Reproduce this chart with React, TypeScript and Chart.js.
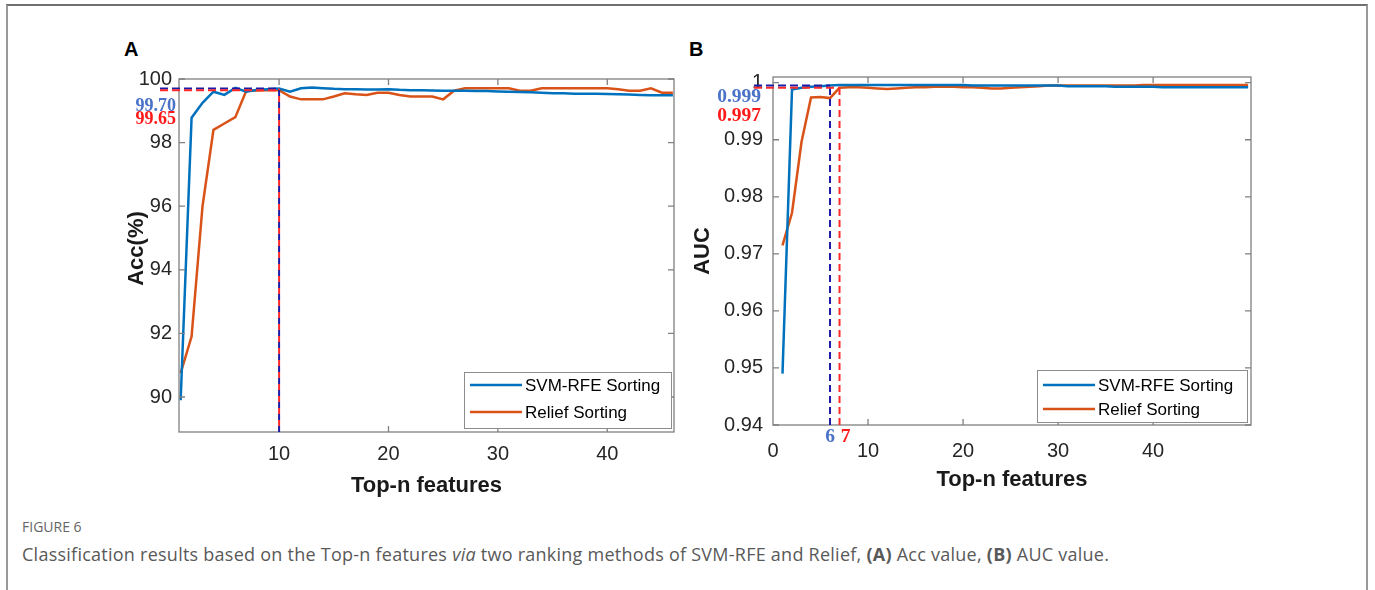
import React, { useEffect, useRef } from "react";
import { Chart, registerables } from "chart.js";

Chart.register(...registerables);

// ---------- data ----------
const topNAcc = [1, 2, 3, 4, 5, 6, 7, 8, 9, 10, 11, 12, 13, 14, 15, 16, 17, 18, 19, 20, 21, 22, 23, 24, 25, 26, 27, 28, 29, 30, 31, 32, 33, 34, 35, 36, 37, 38, 39, 40, 41, 42, 43, 44, 45, 46];
const svmAcc = [89.9, 98.78, 99.25, 99.6, 99.5, 99.72, 99.6, 99.66, 99.68, 99.7, 99.6, 99.71, 99.73, 99.71, 99.69, 99.68, 99.68, 99.67, 99.67, 99.68, 99.66, 99.65, 99.65, 99.64, 99.63, 99.63, 99.63, 99.62, 99.62, 99.61, 99.6, 99.59, 99.58, 99.57, 99.55, 99.55, 99.54, 99.54, 99.54, 99.53, 99.52, 99.51, 99.5, 99.49, 99.49, 99.49];
const reliefAcc = [90.75, 91.9, 96.0, 98.4, 98.6, 98.8, 99.63, 99.64, 99.65, 99.65, 99.45, 99.36, 99.36, 99.36, 99.45, 99.55, 99.52, 99.5, 99.57, 99.57, 99.5, 99.45, 99.45, 99.45, 99.36, 99.63, 99.71, 99.71, 99.71, 99.71, 99.71, 99.63, 99.63, 99.71, 99.71, 99.71, 99.71, 99.71, 99.71, 99.71, 99.68, 99.63, 99.63, 99.71, 99.57, 99.57];

const topNAuc = [1, 2, 3, 4, 5, 6, 7, 8, 9, 10, 11, 12, 13, 14, 15, 16, 17, 18, 19, 20, 21, 22, 23, 24, 25, 26, 27, 28, 29, 30, 31, 32, 33, 34, 35, 36, 37, 38, 39, 40, 41, 42, 43, 44, 45, 46, 47, 48, 49, 50];
const svmAuc = [0.949, 0.9988, 0.9991, 0.9993, 0.9994, 0.9995, 0.9996, 0.9996, 0.9996, 0.9996, 0.9996, 0.9996, 0.9996, 0.9996, 0.9996, 0.9996, 0.9996, 0.9996, 0.9996, 0.9996, 0.9995, 0.9995, 0.9995, 0.9995, 0.9995, 0.9995, 0.9995, 0.9995, 0.9995, 0.9995, 0.9994, 0.9994, 0.9994, 0.9994, 0.9994, 0.9993, 0.9993, 0.9993, 0.9993, 0.9993, 0.9992, 0.9992, 0.9992, 0.9992, 0.9992, 0.9992, 0.9992, 0.9992, 0.9992, 0.9992];
const reliefAuc = [0.9715, 0.9772, 0.9896, 0.9974, 0.9975, 0.9973, 0.9991, 0.9992, 0.9992, 0.9991, 0.999, 0.9989, 0.999, 0.9991, 0.9992, 0.9992, 0.9993, 0.9993, 0.9993, 0.9992, 0.9992, 0.9991, 0.999, 0.999, 0.9991, 0.9992, 0.9993, 0.9994, 0.9995, 0.9995, 0.9995, 0.9995, 0.9995, 0.9995, 0.9995, 0.9995, 0.9995, 0.9995, 0.9996, 0.9996, 0.9996, 0.9996, 0.9996, 0.9996, 0.9996, 0.9996, 0.9996, 0.9996, 0.9996, 0.9996];

const accXTicks = [10, 20, 30, 40];
const accYTicks = [90, 92, 94, 96, 98, 100];
const aucXTicks = [0, 10, 20, 30, 40];
const aucYTicks = [0.94, 0.95, 0.96, 0.97, 0.98, 0.99, 1];

const seriesLabels = ["SVM-RFE Sorting", "Relief Sorting"];
const accMarkLabels = ["99.70", "99.65"];
const aucMarkLabels = ["0.999", "0.997"];
const accBestN = [10, 10];
const aucBestN = [6, 7];

// ---------- styles ----------
const BLUE = "#0072BD";
const ORANGE = "#D95319";
const DASH_BLUE = "#1c1ca8";
const DASH_RED = "#ff2b2b";
const LABEL_BLUE = "#4a72c8";
const LABEL_RED = "#ff1a1a";
const SANS = "'Liberation Sans', Arial, sans-serif";
const SERIF = "'Liberation Serif', 'Times New Roman', serif";

type PanelCfg = {
  xs: number[];
  svm: number[];
  relief: number[];
  xMin: number;
  xMax: number;
  yMin: number;
  yMax: number;
  xTicks: number[];
  yTicks: number[];
  yWidth: number;
  padding: { left: number; top: number; right: number; bottom: number };
  xPad: number;
  yPad: number;
  yTitle: string;
  yTitleOffset: number;
  yTitleShift: number;
  xTitleOffset: number;
  bestN: number[];
  markLabels: string[];
  labelTop: number[];
  labelRight: number;
  labelSize: number;
  nLabelShift: number[];
  alternate: boolean;
  showNLabels: boolean;
  legend: { w: number; h: number; dr: number; db: number; rows: number[] };
};

function makePlugin(cfg: PanelCfg) {
  return {
    id: "panelDecor",
    afterDatasetsDraw(chart: any) {
      const { ctx, chartArea } = chart;
      const { left, right, top, bottom } = chartArea;
      const xs = chart.scales.x;
      const ys = chart.scales.y;
      ctx.save();
      // box
      ctx.strokeStyle = "#808080";
      ctx.lineWidth = 1.3;
      ctx.setLineDash([]);
      ctx.strokeRect(left, top, right - left, bottom - top);
      // inward ticks
      ctx.beginPath();
      cfg.xTicks.forEach((v) => {
        const px = xs.getPixelForValue(v);
        if (px <= left + 1) return;
        ctx.moveTo(px, bottom);
        ctx.lineTo(px, bottom - 6);
        ctx.moveTo(px, top);
        ctx.lineTo(px, top + 6);
      });
      cfg.yTicks.forEach((v) => {
        const py = ys.getPixelForValue(v);
        ctx.moveTo(left, py);
        ctx.lineTo(left + 6, py);
        ctx.moveTo(right, py);
        ctx.lineTo(right - 6, py);
      });
      ctx.stroke();

      // dashed markers
      const series = [cfg.svm, cfg.relief];
      const dashColors = [DASH_BLUE, DASH_RED];
      const labelColors = [LABEL_BLUE, LABEL_RED];
      ctx.lineWidth = 2;
      series.forEach((arr, k) => {
        const n = cfg.bestN[k];
        const idx = cfg.xs.indexOf(n);
        const val = arr[idx];
        const px = xs.getPixelForValue(n);
        const py = ys.getPixelForValue(val);
        ctx.strokeStyle = dashColors[k];
        // horizontal
        ctx.setLineDash([8, 4]);
        ctx.lineDashOffset = 0;
        ctx.beginPath();
        ctx.moveTo(left - 19, py);
        ctx.lineTo(px, py);
        ctx.stroke();
        // vertical (drawn from bottom upward so that dashes can alternate)
        if (cfg.alternate) {
          ctx.setLineDash([6, 6]);
          ctx.lineDashOffset = k === 0 ? 0 : 6;
        } else {
          ctx.setLineDash([7, 4]);
          ctx.lineDashOffset = 0;
        }
        ctx.beginPath();
        ctx.moveTo(px, bottom);
        ctx.lineTo(px, cfg.alternate ? ys.getPixelForValue(series[0][cfg.xs.indexOf(cfg.bestN[0])]) : py);
        ctx.stroke();
        // value labels
        ctx.setLineDash([]);
        ctx.fillStyle = labelColors[k];
        ctx.font = `bold ${cfg.labelSize}px ${SERIF}`;
        ctx.textAlign = "right";
        ctx.textBaseline = "middle";
        ctx.fillText(cfg.markLabels[k], left - cfg.labelRight, top + cfg.labelTop[k]);
        if (cfg.showNLabels) {
          ctx.textAlign = "center";
          ctx.fillText(String(n), px + cfg.nLabelShift[k], bottom + 12);
        }
      });

      // legend
      const L = cfg.legend;
      const bx = right - L.dr - L.w;
      const by = bottom - L.db - L.h;
      ctx.setLineDash([]);
      ctx.fillStyle = "#ffffff";
      ctx.fillRect(bx, by, L.w, L.h);
      ctx.strokeStyle = "#8c8c8c";
      ctx.lineWidth = 1;
      ctx.strokeRect(bx + 0.5, by + 0.5, L.w, L.h);
      const cols = [BLUE, ORANGE];
      seriesLabels.forEach((lab, k) => {
        const ry = by + L.rows[k];
        ctx.strokeStyle = cols[k];
        ctx.lineWidth = 2.5;
        ctx.beginPath();
        ctx.moveTo(bx + 6, ry);
        ctx.lineTo(bx + 58, ry);
        ctx.stroke();
        ctx.fillStyle = "#000000";
        ctx.font = `17px ${SANS}`;
        ctx.textAlign = "left";
        ctx.textBaseline = "middle";
        ctx.fillText(lab, bx + 61, ry + 1);
      });

      // axis titles
      ctx.fillStyle = "#1a1a1a";
      ctx.font = `bold 22px ${SANS}`;
      ctx.textAlign = "center";
      ctx.textBaseline = "middle";
      ctx.fillText("Top-n features", (left + right) / 2, bottom + cfg.xTitleOffset);
      ctx.save();
      ctx.translate(left - cfg.yTitleOffset, (top + bottom) / 2 + cfg.yTitleShift);
      ctx.rotate(-Math.PI / 2);
      ctx.fillText(cfg.yTitle, 0, 0);
      ctx.restore();
      ctx.restore();
    },
  };
}

function buildChart(canvas: HTMLCanvasElement, cfg: PanelCfg) {
  return new Chart(canvas, {
    type: "line",
    data: {
      datasets: [
        {
          label: seriesLabels[0],
          data: cfg.xs.map((n, i) => ({ x: n, y: cfg.svm[i] })),
          borderColor: BLUE,
          borderWidth: 2.5,
          pointRadius: 0,
          tension: 0,
        },
        {
          label: seriesLabels[1],
          data: cfg.xs.map((n, i) => ({ x: n, y: cfg.relief[i] })),
          borderColor: ORANGE,
          borderWidth: 2.5,
          pointRadius: 0,
          tension: 0,
        },
      ],
    },
    options: {
      responsive: false,
      animation: false,
      events: [],
      layout: { padding: cfg.padding },
      plugins: { legend: { display: false }, tooltip: { enabled: false } },
      scales: {
        x: {
          type: "linear",
          min: cfg.xMin,
          max: cfg.xMax,
          grid: { display: false, drawTicks: false },
          border: { display: false },
          afterBuildTicks: (s: any) => {
            s.ticks = cfg.xTicks.map((v) => ({ value: v }));
          },
          afterFit: (s: any) => {
            s.height = 70;
          },
          ticks: {
            padding: cfg.xPad,
            color: "#262626",
            font: { family: SANS, size: 20 },
            maxRotation: 0,
            autoSkip: false,
            callback: (v: any) => String(v),
          },
        },
        y: {
          type: "linear",
          min: cfg.yMin,
          max: cfg.yMax,
          grid: { display: false, drawTicks: false },
          border: { display: false },
          afterBuildTicks: (s: any) => {
            s.ticks = cfg.yTicks.map((v) => ({ value: v }));
          },
          afterFit: (s: any) => {
            s.width = cfg.yWidth;
          },
          ticks: {
            padding: cfg.yPad,
            color: "#262626",
            font: { family: SANS, size: 20 },
            autoSkip: false,
            callback: (v: any) => String(v),
          },
        },
      },
    },
    plugins: [makePlugin(cfg)],
  } as any);
}

const accCfg: PanelCfg = {
  xs: topNAcc,
  svm: svmAcc,
  relief: reliefAcc,
  xMin: 0.85,
  xMax: 46.1,
  yMin: 88.9,
  yMax: 100,
  xTicks: accXTicks,
  yTicks: accYTicks,
  yWidth: 79,
  padding: { left: 0, top: 49, right: 16, bottom: 8 },
  xPad: 10,
  yPad: 7,
  yTitle: "Acc(%)",
  yTitleOffset: 42,
  yTitleShift: -7,
  xTitleOffset: 54,
  bestN: accBestN,
  markLabels: accMarkLabels,
  labelTop: [27, 40],
  labelRight: 3,
  labelSize: 18,
  nLabelShift: [0, 0],
  alternate: true,
  showNLabels: false,
  legend: { w: 207, h: 56, dr: 3, db: 4, rows: [13, 40] },
};

const aucCfg: PanelCfg = {
  xs: topNAuc,
  svm: svmAuc,
  relief: reliefAuc,
  xMin: 0,
  xMax: 50.3,
  yMin: 0.94,
  yMax: 1.001,
  xTicks: aucXTicks,
  yTicks: aucYTicks,
  yWidth: 83,
  padding: { left: 0, top: 47, right: 39, bottom: 15 },
  xPad: 14,
  yPad: 10,
  yTitle: "AUC",
  yTitleOffset: 70,
  yTitleShift: 0,
  xTitleOffset: 55,
  bestN: aucBestN,
  markLabels: aucMarkLabels,
  labelTop: [20, 39],
  labelRight: 12,
  labelSize: 19.5,
  nLabelShift: [0, 6],
  alternate: false,
  showNLabels: true,
  legend: { w: 210, h: 52, dr: 4, db: 3, rows: [15, 39] },
};

function Panel({ cfg, left, width }: { cfg: PanelCfg; left: number; width: number }) {
  const ref = useRef<HTMLCanvasElement | null>(null);
  useEffect(() => {
    if (!ref.current) return;
    const ch = buildChart(ref.current, cfg);
    return () => ch.destroy();
  }, [cfg]);
  return (
    <canvas
      ref={ref}
      width={width}
      height={480}
      style={{ position: "absolute", left, top: 30, width, height: 480 }}
    />
  );
}

export default function App() {
  return (
    <div
      style={{
        position: "absolute",
        left: 0,
        top: 0,
        width: 1375,
        height: 590,
        overflow: "hidden",
        background: "#ffffff",
      }}
    >
      <div
        style={{
          position: "absolute",
          left: 6,
          top: 4,
          width: 1358,
          height: 640,
          borderTop: "2px solid #707070",
          borderLeft: "2px solid #9a9a9a",
          borderRight: "2px solid #9a9a9a",
        }}
      />
      <div style={{ position: "absolute", left: 124, top: 38, font: `bold 20px ${SANS}`, color: "#000" }}>A</div>
      <div style={{ position: "absolute", left: 689, top: 38, font: `bold 20px ${SANS}`, color: "#000" }}>B</div>
      <Panel cfg={accCfg} left={100} width={590} />
      <Panel cfg={aucCfg} left={690} width={600} />
      <div
        style={{
          position: "absolute",
          left: 22,
          top: 517,
          font: `14px 'Open Sans', sans-serif`,
          lineHeight: "20px",
          color: "#666666",
        }}
      >
        FIGURE 6
      </div>
      <div
        style={{
          position: "absolute",
          left: 22,
          top: 541,
          font: `18px 'Open Sans', sans-serif`,
          lineHeight: "26px",
          color: "#595959",
          letterSpacing: "0.25px",
          whiteSpace: "nowrap",
        }}
      >
        Classification results based on the Top-n features <i>via</i> two ranking methods of SVM-RFE and Relief, <b>(A)</b> Acc value, <b>(B)</b> AUC value.
      </div>
    </div>
  );
}
